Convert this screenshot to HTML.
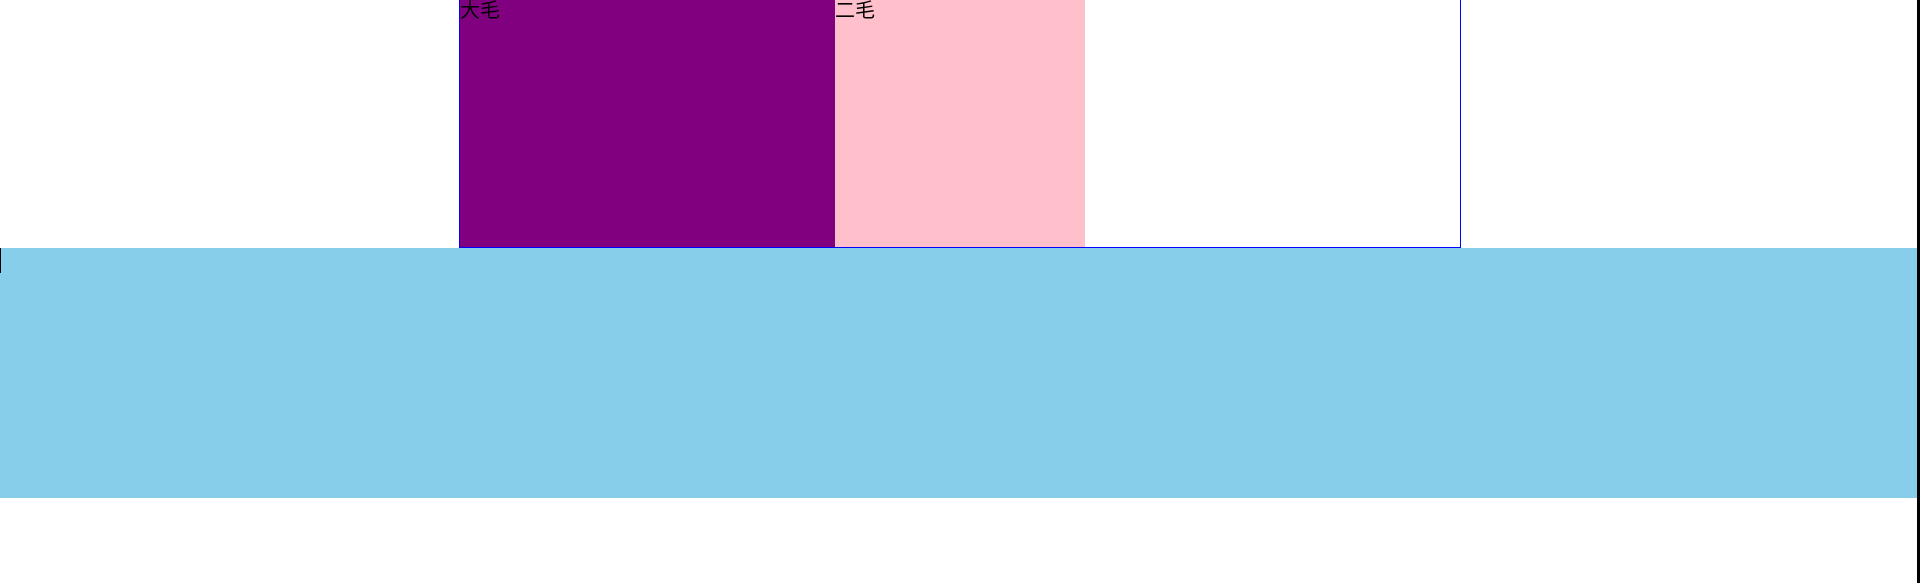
<!DOCTYPE html>
<html><head><meta charset="utf-8"><style>
body{margin:0;width:1920px;height:583px;overflow:hidden;background:#fff;position:relative;font-family:"Liberation Sans","Noto Sans CJK SC",sans-serif;}
#box{position:absolute;left:459px;top:-1px;width:1000px;height:247px;border:1px solid blue;}
.bar{position:absolute;top:0;height:247px;font-size:20px;line-height:22px;color:#000;}
#blue{position:absolute;left:0;top:248px;width:1917px;height:250px;background:#87ceeb;}
#rline{position:absolute;left:1917px;top:0;width:3px;height:583px;background:#000;}
#cursor{position:absolute;left:0;top:248px;width:1px;height:25px;background:#000;}
</style></head><body>
<div id="box">
<div class="bar" style="left:0;width:375px;background:purple">大毛</div>
<div class="bar" style="left:375px;width:250px;background:pink">二毛</div>
</div>
<div id="blue"></div>
<div id="cursor"></div>
<div id="rline"></div>
</body></html>
